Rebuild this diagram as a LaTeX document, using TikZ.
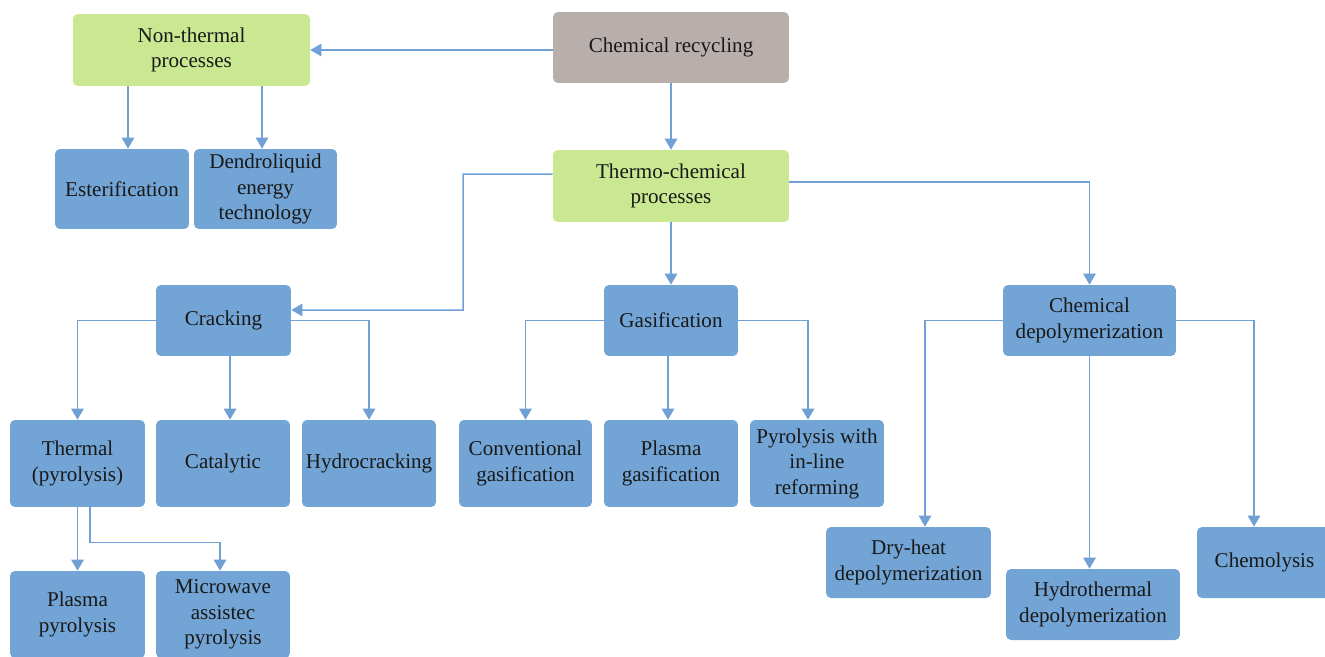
\documentclass[tikz,border=0pt]{standalone}
\usepackage{fontspec}
\setmainfont{Liberation Serif}
\usepackage{tikz}
\usetikzlibrary{arrows.meta}
\definecolor{leafblue}{RGB}{114,164,213}
\definecolor{linkblue}{RGB}{112,160,212}
\definecolor{groupgreen}{RGB}{201,232,145}
\definecolor{rootgray}{RGB}{184,175,173}
\tikzset{
  box/.style={rectangle,rounded corners=0.1cm,align=center,inner sep=2pt,
    text=black!90,font=\fontsize{12}{14.5}\selectfont},
  root/.style={box,fill=rootgray},
  group/.style={box,fill=groupgreen},
  leaf/.style={box,fill=leafblue},
  link/.style={draw=linkblue,line width=0.85pt,->}
}

\begin{document}
\begin{tikzpicture}[x=0.02cm,y=-0.02cm,
  >={Triangle[length=0.22cm,width=0.25cm]}]
  \useasboundingbox (0,0) rectangle (1325,656);
  % top part
  \node [root,minimum width=4.72cm,minimum height=1.42cm] (rec) at (671,47.5) {Chemical recycling};
  \node [group,minimum width=4.74cm,minimum height=1.44cm] (nt) at (191.5,50) {Non-thermal\\processes};
  \node [leaf,minimum width=2.68cm,minimum height=1.6cm] (est) at (122,189) {Esterification};
  \node [leaf,minimum width=2.86cm,minimum height=1.6cm] (dlq) at (265.5,189) {Dendroliquid\\energy\\technology};
  \node [group,minimum width=4.72cm,minimum height=1.44cm] (tc) at (671,186) {Thermo-chemical\\processes};
  % second level
  \node [leaf,minimum width=2.7cm,minimum height=1.42cm] (crk) at (223.5,320.5) {Cracking};
  \node [leaf,minimum width=2.68cm,minimum height=1.42cm] (gas) at (671,320.5) {Gasification};
  \node [leaf,minimum width=3.46cm,minimum height=1.42cm] (cdp) at (1089.5,320.5) {Chemical\\depolymerization};
  % third level
  \node [leaf,minimum width=2.7cm,minimum height=1.74cm] (th) at (77.5,463.5) {Thermal\\(pyrolysis)};
  \node [leaf,minimum width=2.68cm,minimum height=1.74cm] (cat) at (223,463.5) {Catalytic};
  \node [leaf,minimum width=2.68cm,minimum height=1.74cm] (hyd) at (369,463.5) {Hydrocracking};
  \node [leaf,minimum width=2.66cm,minimum height=1.74cm] (conv) at (525.5,463.5) {Conventional\\gasification};
  \node [leaf,minimum width=2.68cm,minimum height=1.74cm] (pgas) at (671,463.5) {Plasma\\gasification};
  \node [leaf,minimum width=2.68cm,minimum height=1.74cm] (pir) at (817,463.5) {Pyrolysis with\\in-line\\reforming};
  \node [leaf,minimum width=3.3cm,minimum height=1.42cm] (dh) at (908.5,562.5) {Dry-heat\\depolymerization};
  \node [leaf,minimum width=3.48cm,minimum height=1.42cm] (ht) at (1093,604.5) {Hydrothermal\\depolymerization};
  \node [leaf,minimum width=2.7cm,minimum height=1.42cm] (chl) at (1264.5,562.5) {Chemolysis};
  % fourth level
  \node [leaf,minimum width=2.7cm,minimum height=1.74cm] (pp) at (77.5,614.5) {Plasma\\pyrolysis};
  \node [leaf,minimum width=2.68cm,minimum height=1.74cm] (mw) at (223,614.5) {Microwave\\assistec\\pyrolysis};

  % connectors
  \begin{scope}[every path/.style={link}]
  \draw (rec.west |- nt.east) -- (nt.east);
  \draw ([xshift=0.12cm]est.north |- nt.south) -- ([xshift=0.12cm]est.north);
  \draw ([xshift=-0.07cm]dlq.north |- nt.south) -- ([xshift=-0.07cm]dlq.north);
  \draw (rec.south) -- (tc.north);
  \draw ([yshift=0.24cm]tc.west) -- (463,174) |- ([yshift=0.21cm]crk.east);
  \draw (tc.south) -- (gas.north);
  \draw ([yshift=0.08cm]tc.east) -| (cdp.north);
  \draw (crk.west) -| (th.north);
  \draw ([xshift=0.13cm]crk.south) -- ([xshift=0.13cm]crk.south |- cat.north);
  \draw (crk.east) -| (hyd.north);
  \draw (gas.west) -| (conv.north);
  \draw ([xshift=-0.06cm]gas.south) -- ([xshift=-0.06cm]gas.south |- pgas.north);
  \draw (gas.east) -| ([xshift=-0.18cm]pir.north);
  \draw (cdp.west) -| ([xshift=0.33cm]dh.north);
  \draw (cdp.south) -- (cdp.south |- ht.north);
  \draw (cdp.east) -| ([xshift=-0.21cm]chl.north);
  \draw (th.south) -- (pp.north);
  \draw ([xshift=0.25cm]th.south) -- ++(0,35) -| ([xshift=-0.06cm]mw.north);
  \end{scope}
\end{tikzpicture}
\end{document}
